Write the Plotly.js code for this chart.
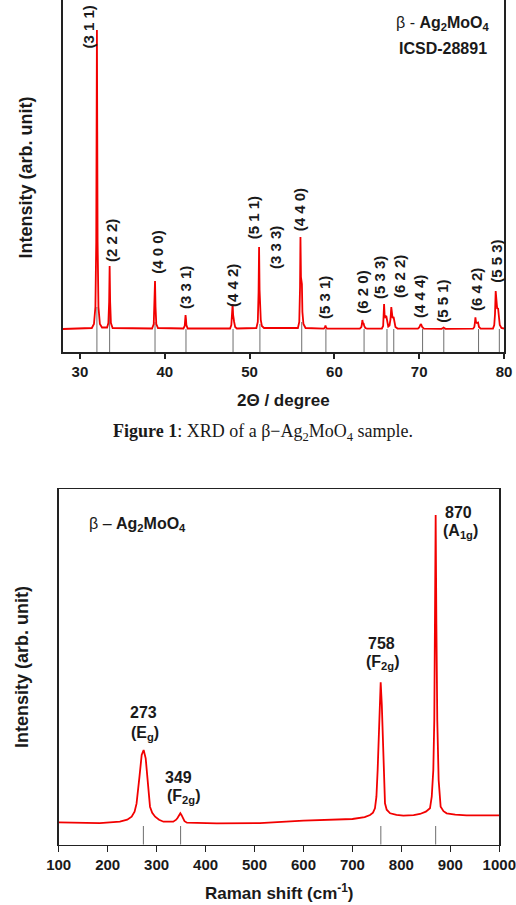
<!DOCTYPE html>
<html><head><meta charset="utf-8">
<script src="https://cdn.plot.ly/plotly-3.0.1.min.js"></script>
<style>html,body{margin:0;padding:0;background:#fff;} #chart{width:516px;height:905px;}</style>
</head><body><div id="chart"></div>
<script>
// ---------- XRD data (2-theta in degrees, intensity in arb. units) ----------
const xrdTheta = [28, 31.4, 31.65, 31.82, 31.92, 31.96, 32.0, 32.04, 32.08, 32.18, 32.35, 32.6,
  33.2, 33.35, 33.44, 33.5, 33.56, 33.65, 33.85,
  38.5, 38.7, 38.79, 38.85, 38.91, 39.0, 39.2,
  42.2, 42.35, 42.4, 42.45, 42.5, 42.55, 42.7,
  47.7, 47.85, 47.94, 48.0, 48.06, 48.12, 48.18, 48.3, 48.5,
  50.8, 50.97, 51.06, 51.12, 51.18, 51.25, 51.32, 51.45, 51.7,
  55.7, 55.86, 55.95, 56.0, 56.06, 56.12, 56.17, 56.23, 56.35, 56.6,
  58.75, 58.88, 58.95, 59.02, 59.15,
  63.0, 63.18, 63.25, 63.3, 63.36, 63.45, 63.52, 63.65, 63.85,
  65.6, 65.75, 65.81, 65.86, 65.92, 66.0, 66.12, 66.22, 66.35, 66.5, 66.62, 66.71, 66.78, 66.86, 66.98, 67.06, 67.2, 67.45,
  69.85, 70.0, 70.1, 70.18, 70.26, 70.35, 70.55,
  72.65, 72.8, 72.88, 72.96, 73.1,
  76.35, 76.5, 76.57, 76.63, 76.7, 76.8, 76.94, 77.05, 77.25,
  78.7, 78.85, 78.94, 79.02, 79.1, 79.2, 79.3, 79.38, 79.5, 79.7, 80];
const xrdIntensity = [23, 24, 28, 45, 110, 220, 322, 220, 110, 45, 28, 24.5,
  24.5, 29, 50, 86, 50, 29, 24,
  23.5, 28, 45, 71, 45, 28, 24,
  23.5, 26, 31, 37, 33, 27, 23.5,
  23.5, 27, 36, 48, 37, 35, 30, 25, 23.5,
  24, 30, 60, 105, 62, 40, 32, 26, 24,
  24, 30, 65, 115, 75, 70, 68, 40, 28, 24,
  23.3, 24.5, 26.5, 24.5, 23.3,
  23.3, 25, 28, 32, 29, 28.5, 26, 24, 23.3,
  23.5, 26, 33, 48, 37, 35, 36, 29, 25.5, 26.5, 33, 45, 36, 34, 35, 29, 25, 23.5,
  23.3, 24.5, 26.5, 28, 27, 25, 23.3,
  23.2, 24, 24.5, 24, 23.2,
  23.3, 25, 29, 34.7, 30, 29, 29.5, 25, 23.3,
  23.5, 27, 38, 61, 46, 43, 44, 34, 27, 24, 23.5];
// ICSD-28891 reference reflections
const refTheta = [32.0, 33.5, 38.85, 42.5, 48.05, 51.22, 56.15, 59.0, 63.5, 66.2, 67.0, 70.4, 72.9, 77.0, 79.45];
const refIntensity = [45, 52, 30, 23, 23, 28, 30, 23, 23, 23, 23, 23, 23, 23, 23];
const hklLabels = ['(3 1 1)', '(2 2 2)', '(4 0 0)', '(3 3 1)', '(4 4 2)', '(5 1 1)', '(3 3 3)', '(4 4 0)',
  '(5 3 1)', '(6 2 0)', '(5 3 3)', '(6 2 2)', '(4 4 4)', '(5 5 1)', '(6 4 2)', '(5 5 3)'];
const xrdTicks = [30, 40, 50, 60, 70, 80];

// ---------- Raman data (shift in cm-1, intensity in arb. units) ----------
const ramanShift = [100, 184, 225, 240, 249, 255, 259, 262, 265, 269.5, 273.5, 277.7, 280, 282, 284.5, 286.5, 291, 297, 305, 314,
  334, 340, 343, 346, 348.5, 351, 353.5, 357, 362, 423, 511, 600, 700, 725, 736, 742, 746, 749, 751.5, 755, 757.7,
  760, 761, 763, 766.5, 770, 777, 790, 804, 825, 838, 850, 858.4, 862, 865.2, 867.2, 868.5, 870, 871.5, 873.3,
  876.1, 880.2, 886, 892.5, 910, 933, 1000];
const ramanIntensity = [22.4, 21.6, 23, 25, 28, 33, 41, 52, 68, 89.7, 94.7, 86.4, 72, 58, 46, 38, 32, 28, 25, 23,
  23, 25, 27, 30, 31.4, 29.5, 26.4, 23.5, 22, 21.4, 21.5, 24, 25.7, 27.5, 29.7, 32, 36.4, 48, 74.7, 134.7, 162.4,
  140, 124.7, 74.7, 41.4, 35, 31.4, 29.8, 29, 29.5, 30.7, 33, 36.4, 48, 74.7, 124.7, 220, 329.7, 220, 124.7,
  64.7, 38, 33.5, 31.4, 30, 29.4, 29.4];
const ramanModes = [273, 349, 758, 870];
const ramanModeMarks = [18.7, 18.7, 18.7, 18.7];
const ramanModeLabels = ['(E<sub>g</sub>)', '(F<sub>2g</sub>)', '(F<sub>2g</sub>)', '(A<sub>1g</sub>)'];
const ramanTicks = [100, 200, 300, 400, 500, 600, 700, 800, 900, 1000];

// ---------- build traces ----------
function sticks(xs, hs) {
  const x = [], y = [];
  xs.forEach((c, i) => { x.push(c, c, null); y.push(0, hs[i], null); });
  return {x, y};
}
const s1 = sticks(refTheta, refIntensity);
const s2 = sticks(ramanModes, ramanModeMarks);
const RED = '#f20000';
const traces = [
  {x: s1.x, y: s1.y, xaxis: 'x', yaxis: 'y', mode: 'lines', line: {color: '#6e6e6e', width: 1}, hoverinfo: 'skip', showlegend: false},
  {x: xrdTheta, y: xrdIntensity, xaxis: 'x', yaxis: 'y', mode: 'lines', line: {color: RED, width: 1.8}, showlegend: false},
  {x: s2.x, y: s2.y, xaxis: 'x2', yaxis: 'y2', mode: 'lines', line: {color: '#6e6e6e', width: 1}, hoverinfo: 'skip', showlegend: false},
  {x: ramanShift, y: ramanIntensity, xaxis: 'x2', yaxis: 'y2', mode: 'lines', line: {color: RED, width: 1.8}, showlegend: false}
];

const FONT = 'Liberation Sans, Arial, sans-serif';
const INK = '#1a1a1a';
const W = 516, H = 905;
const px = v => v / W, py = v => 1 - v / H;

const annotations = [];
// hkl label placement (data coords)
const hklPos = [[30.89, 325], [33.66, 111], [39.05, 100], [42.39, 64], [47.93, 66], [50.44, 134], [53.0, 104], [55.87, 142],
  [58.78, 54], [63.22, 60], [65.26, 75], [67.62, 75], [69.98, 55], [72.66, 51], [76.7, 62], [79.03, 91]];
hklLabels.forEach((t, i) => annotations.push({xref: 'x', yref: 'y', x: hklPos[i][0], y: hklPos[i][1], text: t, textangle: -90,
  showarrow: false, xanchor: 'center', yanchor: 'middle', font: {family: FONT, size: 15, color: INK, weight: 'bold'}}));
annotations.push({xref: 'x', yref: 'y', x: 78.55, y: 329, text: 'β - <b>Ag<sub>2</sub>MoO<sub>4</sub></b>', showarrow: false,
  xanchor: 'right', yanchor: 'middle', font: {family: FONT, size: 16, color: INK}});
annotations.push({xref: 'x', yref: 'y', x: 72.77, y: 304, text: 'ICSD-28891', showarrow: false,
  xanchor: 'center', yanchor: 'middle', font: {family: FONT, size: 16, color: INK, weight: 'bold'}});
// XRD axis titles
annotations.push({xref: 'paper', yref: 'paper', x: px(283.5), y: py(400), text: '2Θ / degree', showarrow: false,
  xanchor: 'center', yanchor: 'middle', font: {family: FONT, size: 17, color: INK, weight: 'bold'}});
annotations.push({xref: 'paper', yref: 'paper', x: px(25.5), y: py(178), text: 'Intensity (arb. unit)', textangle: -90, showarrow: false,
  xanchor: 'center', yanchor: 'middle', font: {family: FONT, size: 18, color: INK, weight: 'bold'}});
// caption
annotations.push({xref: 'paper', yref: 'paper', x: px(263), y: py(433),
  text: '<b>Figure 1</b>: XRD of a β−Ag<sub>2</sub>MoO<sub>4</sub> sample.', showarrow: false,
  xanchor: 'center', yanchor: 'middle', font: {family: 'Liberation Serif, Times New Roman, serif', size: 18, color: INK}});
// Raman labels
const ramanNumPos = [[273, 132], [345.7, 67.4], [760, 201.4], [916, 332]];
const ramanModePos = [[277, 111.4], [356, 48.7], [762, 182], [921, 313]];
ramanModes.forEach((m, i) => {
  annotations.push({xref: 'x2', yref: 'y2', x: ramanNumPos[i][0], y: ramanNumPos[i][1], text: String(m), showarrow: false,
    xanchor: 'center', yanchor: 'middle', font: {family: FONT, size: 16, color: INK, weight: 'bold'}});
  annotations.push({xref: 'x2', yref: 'y2', x: ramanModePos[i][0], y: ramanModePos[i][1], text: ramanModeLabels[i], showarrow: false,
    xanchor: 'center', yanchor: 'middle', font: {family: FONT, size: 16, color: INK, weight: 'bold'}});
});
annotations.push({xref: 'x2', yref: 'y2', x: 157.8, y: 320, text: 'β – <b>Ag<sub>2</sub>MoO<sub>4</sub></b>', showarrow: false,
  xanchor: 'left', yanchor: 'middle', font: {family: FONT, size: 16, color: INK}});
annotations.push({xref: 'paper', yref: 'paper', x: px(279), y: py(892), text: 'Raman shift (cm<sup>-1</sup>)', showarrow: false,
  xanchor: 'center', yanchor: 'middle', font: {family: FONT, size: 17, color: INK, weight: 'bold'}});
annotations.push({xref: 'paper', yref: 'paper', x: px(22), y: py(667), text: 'Intensity (arb. unit)', textangle: -90, showarrow: false,
  xanchor: 'center', yanchor: 'middle', font: {family: FONT, size: 18, color: INK, weight: 'bold'}});

const tickFont = {family: FONT, size: 15, color: INK, weight: 'bold'};
const layout = {
  width: W, height: H,
  margin: {l: 0, r: 0, t: 0, b: 0, autoexpand: false},
  paper_bgcolor: '#ffffff', plot_bgcolor: '#ffffff',
  showlegend: false,
  xaxis: {domain: [px(63), px(504)], range: [28, 80], anchor: 'y', tickvals: xrdTicks, ticktext: xrdTicks.map(String),
    ticks: 'outside', ticklen: 5, tickwidth: 2, tickcolor: '#222', showline: true, linewidth: 2, linecolor: '#222',
    showgrid: false, zeroline: false, tickfont: tickFont, fixedrange: true},
  yaxis: {domain: [py(352), 1], range: [0, 352], anchor: 'x', showline: true, mirror: true, linewidth: 2, linecolor: '#222',
    showticklabels: false, ticks: '', showgrid: false, zeroline: false, fixedrange: true},
  xaxis2: {domain: [px(58.7), px(499.3)], range: [100, 1000], anchor: 'y2', tickvals: ramanTicks, ticktext: ramanTicks.map(String),
    ticks: 'outside', ticklen: 6, tickwidth: 1.5, tickcolor: '#222', showline: true, mirror: true, linewidth: 1.5, linecolor: '#222',
    showgrid: false, zeroline: false, tickfont: tickFont, fixedrange: true},
  yaxis2: {domain: [py(844.7), py(489.3)], range: [0, 355.4], anchor: 'x2', showline: true, mirror: true, linewidth: 1.5, linecolor: '#222',
    showticklabels: false, ticks: '', showgrid: false, zeroline: false, fixedrange: true},
  annotations: annotations
};
Plotly.newPlot('chart', traces, layout, {displayModeBar: false, staticPlot: true});
</script>
</body></html>
